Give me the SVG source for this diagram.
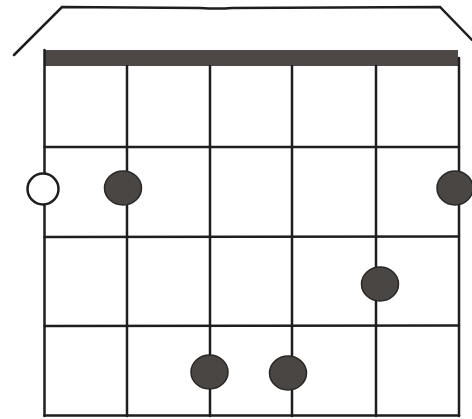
<svg xmlns="http://www.w3.org/2000/svg" width="472" height="419" viewBox="0 0 472 419">
<style>
.ln{stroke:#1e1e1e;stroke-width:2.5;fill:none;stroke-linecap:round}
.dot{fill:#4a4643;stroke:#2a2725;stroke-width:1.5}
.open{fill:#fff;stroke:#1e1e1e;stroke-width:2.5}
</style>
<rect width="472" height="419" fill="#fff"/>
<g id="bracket">
<path class="ln" d="M14,55 L62,7 L200,8 Q218,9 232,8 L440,7 L472,40" stroke-width="2.8"/>
</g>
<g id="nut">
<rect x="44" y="50" width="414" height="16" fill="#4d4845"/>
</g>
<g id="grid">
<line class="ln" x1="44.5" y1="50" x2="44.5" y2="416"/>
<line class="ln" x1="127" y1="66" x2="127" y2="416"/>
<line class="ln" x1="210" y1="66" x2="210" y2="416"/>
<line class="ln" x1="292" y1="66" x2="292" y2="416"/>
<line class="ln" x1="376" y1="66" x2="376" y2="416"/>
<line class="ln" x1="459" y1="58" x2="459" y2="416"/>
<line class="ln" x1="44.5" y1="147" x2="459" y2="147"/>
<line class="ln" x1="44.5" y1="237" x2="459" y2="236.5"/>
<line class="ln" x1="44.5" y1="326" x2="459" y2="325.5"/>
<line class="ln" x1="44.5" y1="415.5" x2="459" y2="415.5"/>
</g>
<g id="open-string">
<circle class="open" cx="43" cy="189" r="15.5"/>
</g>
<g id="finger-s2"><ellipse class="dot" cx="123" cy="188" rx="18.5" ry="17"/></g>
<g id="finger-s6"><ellipse class="dot" cx="455" cy="188" rx="18" ry="17"/></g>
<g id="finger-s5"><ellipse class="dot" cx="380" cy="284" rx="18.5" ry="17"/></g>
<g id="finger-s3"><ellipse class="dot" cx="209.5" cy="372" rx="18.5" ry="17"/></g>
<g id="finger-s4"><ellipse class="dot" cx="288" cy="373" rx="18.5" ry="17"/></g>
</svg>
